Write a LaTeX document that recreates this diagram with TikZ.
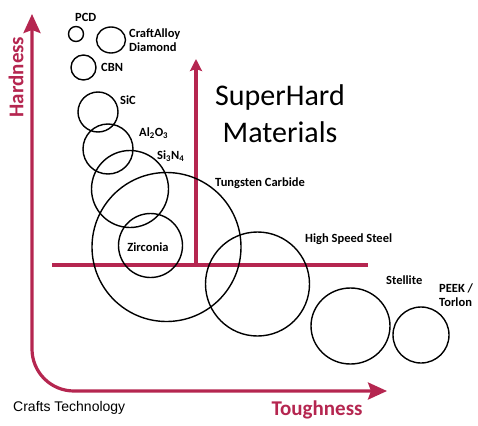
\documentclass[tikz,border=0pt]{standalone}
\usepackage{fontspec}
\setmainfont{Carlito}
\newfontfamily\arialfont{Liberation Sans}
\usetikzlibrary{arrows.meta}
\definecolor{axiscol}{RGB}{181,38,80}
\begin{document}
\begin{tikzpicture}[x=1pt,y=-1pt,
  mat/.style={draw=black,line width=1.4pt},
  lbl/.style={font=\fontsize{12.5}{14}\selectfont\bfseries,inner sep=0pt,anchor=west,align=left,text=black},
  axisline/.style={draw=axiscol,line width=3.2pt},
  bigtip/.style={-{Stealth[inset=3pt,length=19pt,width=17pt]}},
  smalltip/.style={-{Stealth[inset=2pt,length=12pt,width=12pt]}}]
\useasboundingbox (0,0) rectangle (478,425);
% axes
\coordinate (ytop) at (32,14);
\coordinate (corner) at (32,391);
\coordinate (xend) at (387,391);
\draw[axisline,rounded corners=42,{Stealth[inset=3pt,length=19pt,width=17pt]}-{Stealth[inset=3pt,length=19pt,width=17pt]}] (ytop) -- (corner) -- (xend);
% superhard boundary
\coordinate (hl) at (52,265);
\coordinate (hr) at (368,265);
\coordinate (vb) at (196,265);
\coordinate (vt) at (196,59);
\draw[axisline] (hl) -- (hr);
\draw[axisline,smalltip] (vb) -- (vt);
% circles
\node[mat,circle,minimum size=15pt,inner sep=0pt] (pcd) at (76,34) {};
\draw[mat] (111,40) ellipse (14.5 and 13);
\node[mat,circle,minimum size=25pt,inner sep=0pt] (cbn) at (83.5,67.5) {};
\node[mat,circle,minimum size=40pt,inner sep=0pt] (sic) at (98,112) {};
\node[mat,circle,minimum size=50pt,inner sep=0pt] (al) at (108,149) {};
\node[mat,circle,minimum size=77pt,inner sep=0pt] (si) at (130,189) {};
\node[mat,circle,minimum size=149pt,inner sep=0pt] (wc) at (166.5,247) {};
\node[mat,circle,minimum size=64pt,inner sep=0pt] (zr) at (150.5,245.5) {};
\node[mat,circle,minimum size=104pt,inner sep=0pt] (hss) at (257.5,284) {};
\draw[mat] (350.5,326) ellipse (39.5 and 38);
\node[mat,circle,minimum size=56pt,inner sep=0pt] (peek) at (421,335) {};
% labels
\node[lbl] (tpcd) at (75,17) {PCD};
\node[lbl] (tca) at (129,40) {CraftAlloy\\Diamond};
\node[lbl] (tcbn) at (101,67) {CBN};
\node[lbl] (tsic) at (120,100) {SiC};
\node[lbl] (tal) at (139,133) {Al\textsubscript{2}O\textsubscript{3}};
\node[lbl] (tsi) at (157,156) {Si\textsubscript{3}N\textsubscript{4}};
\node[lbl] (twc) at (215,183) {Tungsten Carbide};
\node[lbl,anchor=center] (tzr) at (148,247) {Zirconia};
\node[lbl] (thss) at (305,239) {High Speed Steel};
\node[lbl] (tst) at (386,280) {Stellite};
\node[lbl] (tpk) at (439,295) {PEEK /\\Torlon};
\node[font=\fontsize{30}{37}\selectfont,align=center,inner sep=0pt] (sh) at (280,114) {SuperHard\\Materials};
\node[font=\arialfont\fontsize{14}{16}\selectfont,anchor=west,inner sep=0pt] (ct) at (13,408) {Crafts Technology};
\node[font=\fontsize{21}{24}\selectfont\bfseries,text=axiscol,rotate=90,inner sep=0pt] (th) at (16,77) {Hardness};
\node[font=\fontsize{21}{24}\selectfont\bfseries,text=axiscol,inner sep=0pt] (tt) at (317,410) {Toughness};
\end{tikzpicture}
\end{document}
